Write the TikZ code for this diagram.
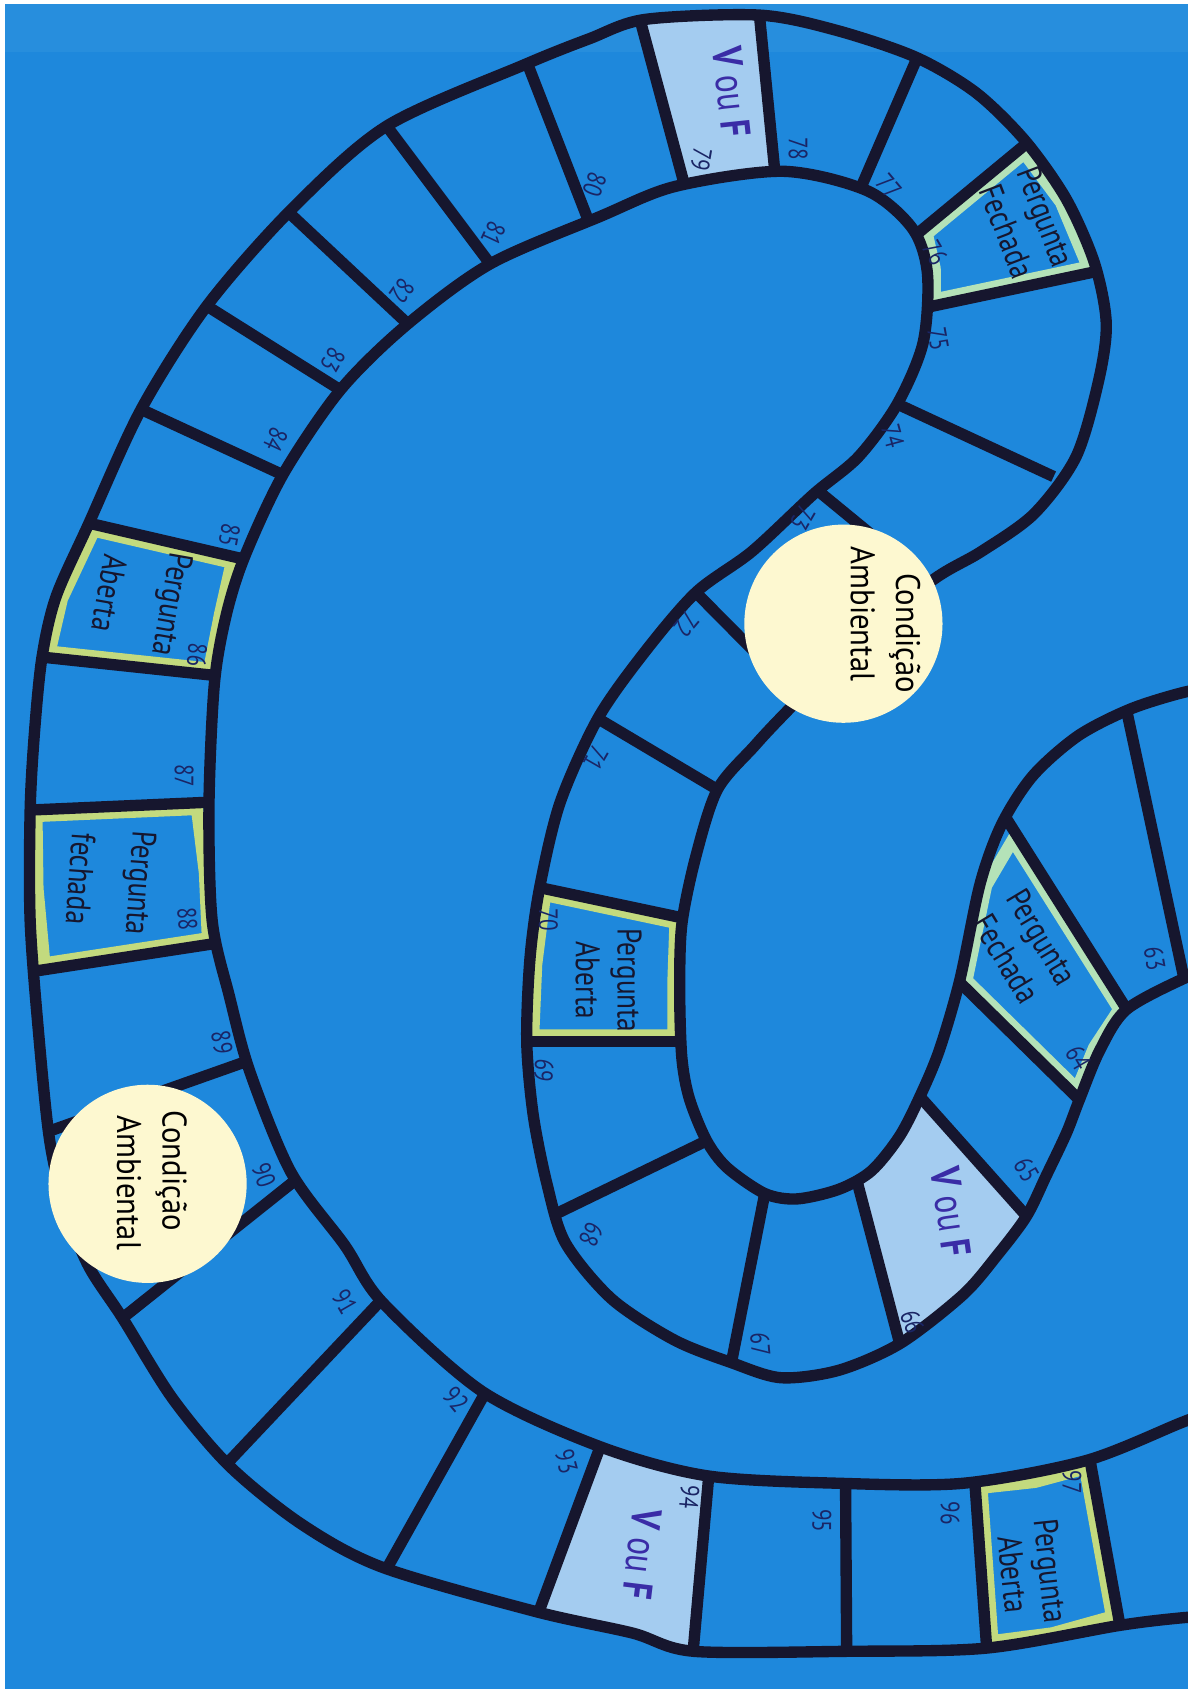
\documentclass[tikz,border=0pt]{standalone}
\usepackage{fontspec}
\setmainfont{PT Sans}
\newfontfamily\handfont[FakeStretch=0.8]{PT Sans}
\newfontfamily\roundfont[FakeStretch=0.9]{PT Sans}
\definecolor{boardblue}{HTML}{1E88DC}
\definecolor{boardtop}{HTML}{278EDD}
\definecolor{inkline}{HTML}{16162E}
\definecolor{vfblue}{HTML}{A4CCF0}
\definecolor{vfink}{HTML}{3A2CA6}
\definecolor{limeedge}{HTML}{C3DA7E}
\definecolor{mintedge}{HTML}{B4E2B8}
\definecolor{creamdisc}{HTML}{FDF8D0}
\definecolor{numink}{HTML}{1A2565}
\tikzset{
  trackedge/.style={draw=inkline,line width=3pt,line join=round},
  divider/.style={draw=inkline,line width=3pt,shorten <=-2mm,shorten >=-2mm},
  vfcell/.style={fill=vfblue},
  qframe/.style={line width=6.5pt,line join=round},
  disc/.style={circle,fill=creamdisc,minimum size=18.4mm,inner sep=0pt},
  num/.style={font=\handfont\fontsize{7}{8}\selectfont,text=numink,inner sep=0pt},
  qtext/.style={font=\handfont\fontsize{9}{11}\selectfont,text=inkline,align=center,inner sep=0pt},
  vftext/.style={font=\handfont\fontsize{11}{12}\selectfont,text=vfink,inner sep=0pt},
  disctext/.style={font=\roundfont\fontsize{9}{12}\selectfont,text=black,align=center,inner sep=0pt},
}
% the two edges of the track (inner one, then outer one), closed off the page
\newcommand{\trackshape}{
  plot[smooth] coordinates {(1130,898) (1102,907) (1046,937) (1021,975) (1002,1021) (990,1052) (971,1092) (953,1129) (926,1165) (894,1202) (836,1247) (779,1272) (725,1279) (679,1265) (626,1244) (568,1206) (525,1154) (508,1100) (495,1035) (489,967) (492,890) (501,824) (520,745) (555,667) (598,606) (646,550) (698,512) (755,459) (797,424) (833,375) (857,318) (861,254) (847,212) (805,177) (727,159) (627,173) (557,201) (455,245) (377,302) (316,362) (263,440) (227,517) (210,571) (199,635) (194,748) (197,855) (213,925) (232,995) (270,1088) (320,1156) (355,1209) (448,1292) (557,1343) (656,1370) (779,1377) (894,1377) (1008,1356) (1096,1321) (1130,1308)} -- cycle
  plot[smooth] coordinates {(1130,1500) (1096,1502) (1039,1509) (916,1530) (786,1533) (644,1533) (587,1516) (497,1496) (355,1455) (280,1415) (213,1361) (160,1298) (114,1224) (82,1175) (60,1120) (46,1058) (36,961) (28,855) (28,752) (32,680) (39,610) (52,554) (82,487) (131,380) (192,284) (270,195) (359,117) (487,60) (547,36) (599,18) (705,14) (776,28) (850,53) (906,86) (952,131) (990,185) (1016,244) (1027,300) (1020,353) (999,424) (960,477) (911,512) (868,537) (800,590) (728,663) (700,693) (666,733) (646,795) (633,858) (631,920) (633,982) (640,1020) (656,1059) (675,1084) (710,1108) (740,1113) (779,1104) (809,1087) (835,1055) (854,1018) (872,975) (891,910) (910,820) (930,765) (959,720) (1001,683) (1050,658) (1102,642) (1130,640)} -- cycle}
% green frame drawn just inside a question square
\newcommand{\questioncell}[2]{\begin{scope}\clip #2 -- cycle; \draw[qframe,draw=#1] #2 -- cycle;\end{scope}}

\begin{document}
\begin{tikzpicture}[x=0.1mm,y=-0.1mm]
	\useasboundingbox (0,0) rectangle (1111,1568);
	\fill[white] (0,0) rectangle (1111,1568);
	\fill[boardblue] (5,4) rectangle (1103,1568);
	\fill[boardtop] (5,4) rectangle (1103,48);

	\begin{scope}[even odd rule]
		\clip \trackshape;
		% V ou F squares
		\fill[vfcell] (841,1003) -- (966,1144) -- (910,1215) -- (841,1269) -- (791,1079) -- cycle;
		\fill[vfcell] (591,5) -- (703,-6) -- (721,176) -- (640,190) -- cycle;
		\fill[vfcell] (559,1338) -- (660,1350) -- (642,1547) -- (493,1516) -- cycle;
		% question squares
		\questioncell{mintedge}{(940,769) -- (1046,937) -- (1021,975) -- (1002,1021) -- (891,912) -- (910,820)}
		\questioncell{limeedge}{(501,824) -- (633,852) -- (631,910) -- (631,967) -- (489,967) -- (492,895)}
		\questioncell{mintedge}{(854,215) -- (952,134) -- (990,185) -- (1018,252) -- (862,285) -- (862,250)}
		\questioncell{limeedge}{(84,486) -- (222,518) -- (210,571) -- (199,627) -- (39,610) -- (52,554)}
		\questioncell{limeedge}{(28,752) -- (188,745) -- (196,810) -- (199,876) -- (36,901) -- (29,825)}
		\questioncell{limeedge}{(905,1376) -- (960,1370) -- (1012,1356) -- (1039,1505) -- (978,1522) -- (916,1530)}
		% square dividers
		\draw[divider] (1098,903) -- (1046,660); \draw[divider] (1046,937) -- (940,769);
		\draw[divider] (1002,1021) -- (891,912); \draw[divider] (953,1129) -- (854,1018);
		\draw[divider] (836,1250) -- (796,1098); \draw[divider] (679,1265) -- (710,1108);
		\draw[divider] (520,1125) -- (656,1059); \draw[divider] (489,967) -- (631,967);
		\draw[divider] (501,824) -- (633,852); \draw[divider] (555,667) -- (666,733);
		\draw[divider] (646,550) -- (745,650); \draw[divider] (755,452) -- (850,530);
		\draw[divider] (833,375) -- (960,434); \draw[divider] (862,285) -- (1018,252);
		\draw[divider] (854,215) -- (952,134); \draw[divider] (801,170) -- (850,57);
		\draw[divider] (719,156) -- (705,14); \draw[divider] (635,170) -- (596,25);
		\draw[divider] (544,199) -- (490,60); \draw[divider] (455,245) -- (359,117);
		\draw[divider] (380,302) -- (270,199); \draw[divider] (316,362) -- (192,284);
		\draw[divider] (263,441) -- (131,380); \draw[divider] (222,518) -- (84,486);
		\draw[divider] (199,627) -- (39,610); \draw[divider] (188,745) -- (28,752);
		\draw[divider] (199,876) -- (36,901); \draw[divider] (227,986) -- (46,1050);
		\draw[divider] (270,1099) -- (117,1221); \draw[divider] (352,1209) -- (217,1352);
		\draw[divider] (451,1292) -- (362,1451); \draw[divider] (552,1357) -- (500,1497);
		\draw[divider] (658,1370) -- (644,1527); \draw[divider] (785,1380) -- (786,1530);
		\draw[divider] (905,1376) -- (916,1530); \draw[divider] (1012,1356) -- (1039,1505);
	\end{scope}
	\draw[trackedge] \trackshape;

	% Condicao Ambiental discs
	\node[disc] (disc1) at (783,579) {};
	\node[disctext,rotate=-90] (disctxt1) at (822,570) {\hspace*{3.6mm}Condição\\Ambiental};
	\node[disc] (disc2) at (137,1099) {};
	\node[disctext,rotate=-90] (disctxt2) at (141,1098) {Condição\hspace*{2.2mm}\\Ambiental};

	% texts in the special squares
	\node[qtext,rotate=-59] (q64) at (951,880) {Pergunta\\Fechada};
	\node[qtext,rotate=-90] (q70) at (565,910) {Pergunta\\Aberta};
	\node[qtext,rotate=-69] (q76) at (953,208) {Pergunta\\Fechada};
	\node[qtext,rotate=-100] (q86) at (131,556) {Pergunta\\[6pt]Aberta};
	\node[qtext,rotate=-94] (q88) at (103,818) {Pergunta\\[5pt]fechada};
	\node[qtext,rotate=-84] (q97) at (958,1460) {Pergunta\\[-1pt]Aberta};
	\node[vftext,rotate=-82] (vf66) at (883,1125) {\bfseries V \mdseries ou \bfseries F};
	\node[vftext,rotate=-84] (vf79) at (679,85) {\bfseries V \mdseries ou \bfseries F};
	\node[vftext,rotate=-97] (vf94) at (596,1443) {\bfseries V \mdseries ou \bfseries F};

	% square numbers
	\node[num,rotate=-80] (n63) at (1072,890) {63};
	\node[num,rotate=-60] (n64) at (1001,982) {64};
	\node[num,rotate=-60] (n65) at (953,1086) {65};
	\node[num,rotate=-70] (n66) at (847,1227) {66};
	\node[num,rotate=-85] (n67) at (706,1248) {67};
	\node[num,rotate=-115] (n68) at (549,1146) {68};
	\node[num,rotate=-95] (n69) at (505,994) {69};
	\node[num,rotate=-90] (n70) at (509,854) {70};
	\node[num,rotate=-120] (n71) at (553,704) {71};
	\node[num,rotate=-130] (n72) at (637,580) {72};
	\node[num,rotate=-120] (n73) at (745,481) {73};
	\node[num,rotate=-75] (n74) at (829,405) {74};
	\node[num,rotate=-80] (n75) at (871,315) {75};
	\node[num,rotate=-60] (n76) at (868,235) {76};
	\node[num,rotate=-50] (n77) at (825,173) {77};
	\node[num,rotate=-90] (n78) at (741,138) {78};
	\node[num,rotate=-100] (n79) at (651,148) {79};
	\node[num,rotate=-110] (n80) at (552,171) {80};
	\node[num,rotate=-115] (n81) at (458,217) {81};
	\node[num,rotate=-125] (n82) at (373,270) {82};
	\node[num,rotate=-120] (n83) at (309,334) {83};
	\node[num,rotate=-115] (n84) at (256,408) {84};
	\node[num,rotate=-100] (n85) at (213,497) {85};
	\node[num,rotate=-95] (n86) at (183,608) {86};
	\node[num,rotate=-90] (n87) at (171,720) {87};
	\node[num,rotate=-85] (n88) at (174,853) {88};
	\node[num,rotate=-80] (n89) at (206,968) {89};
	\node[num,rotate=-70] (n90) at (245,1091) {90};
	\node[num,rotate=-60] (n91) at (320,1209) {91};
	\node[num,rotate=-50] (n92) at (423,1299) {92};
	\node[num,rotate=-75] (n93) at (526,1357) {93};
	\node[num,rotate=-95] (n94) at (640,1390) {94};
	\node[num,rotate=-90] (n95) at (763,1412) {95};
	\node[num,rotate=-90] (n96) at (882,1405) {96};
	\node[num,rotate=-90] (n97) at (995,1376) {97};

	% paper border
	\fill[white] (1103,0) rectangle (1111,1568);
\end{tikzpicture}
\end{document}
